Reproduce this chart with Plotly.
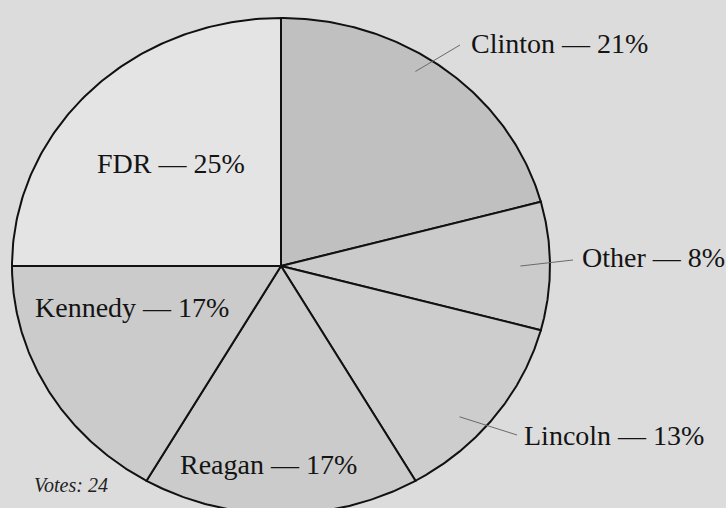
import numpy as np
import plotly.graph_objects as go

# Poll results, clockwise from 12 o'clock
names = ["Clinton", "Other", "Lincoln", "Reagan", "Kennedy", "FDR"]
votes = [5, 2, 3, 4, 4, 6]

total = sum(votes)
pcts = [int(100 * v / total + 0.5) for v in votes]

# Styling
fills = ["#c0c0c0", "#cbcbcb", "#cdcdcd", "#cbcbcb", "#cbcbcb", "#e4e4e4"]
paper_bg = "#dcdcdc"
W, H = 726, 508

# Axis ranges: the unit pie is stretched slightly wider than tall
xr = [-1.0446, 1.6543]
yr = [-0.9758, 1.0726]


def px_to_data(px, py):
    x = xr[0] + px / W * (xr[1] - xr[0])
    y = yr[1] - py / H * (yr[1] - yr[0])
    return x, y


fig = go.Figure()

edges = np.concatenate([[0], np.cumsum(votes)]) / total * 2 * np.pi
for i, name in enumerate(names):
    t = np.linspace(edges[i], edges[i + 1], 120)
    xs = np.concatenate([[0], np.sin(t), [0]])
    ys = np.concatenate([[0], np.cos(t), [0]])
    fig.add_trace(go.Scatter(
        x=xs, y=ys, mode="lines", fill="toself", fillcolor=fills[i],
        line=dict(color="#111111", width=2), hoverinfo="skip",
        showlegend=False,
    ))

# Label placement (left edge, vertical centre, in pixels) and leader lines
label_pos = {
    "Clinton": (469, 44),
    "Other": (580, 257),
    "Lincoln": (522, 435),
    "Reagan": (178, 464),
    "Kennedy": (33, 307),
    "FDR": (95, 163),
}
# leader: (angle offset from slice middle in degrees, radius, end pixel)
leaders = {
    "Clinton": (-5, 0.93, (460, 45)),
    "Other": (0, 0.89, (573, 260)),
    "Lincoln": (5, 0.90, (517, 435)),
}

for i, name in enumerate(names):
    lx, ly = label_pos[name]
    fig.add_annotation(
        x=lx / W, y=1 - ly / H, xref="paper", yref="paper",
        text=f"{name} \u2014 {pcts[i]}%", showarrow=False,
        xanchor="left", yanchor="middle",
        font=dict(family="Liberation Serif", size=28, color="#141414"),
    )
    if name in leaders:
        off, rad, end = leaders[name]
        mid = (edges[i] + edges[i + 1]) / 2 + np.radians(off)
        sx, sy = rad * np.sin(mid), rad * np.cos(mid)
        ex, ey = px_to_data(*end)
        fig.add_trace(go.Scatter(
            x=[sx, ex], y=[sy, ey], mode="lines",
            line=dict(color="#6a6a6a", width=1), hoverinfo="skip",
            showlegend=False,
        ))

fig.add_annotation(
    x=32 / W, y=1 - 485 / H, xref="paper", yref="paper",
    text=f"<i>Votes: {total}</i>", showarrow=False,
    xanchor="left", yanchor="middle",
    font=dict(family="Liberation Serif", size=20, color="#222222"),
)

fig.update_xaxes(range=xr, visible=False, fixedrange=True)
fig.update_yaxes(range=yr, visible=False, fixedrange=True)
fig.update_layout(
    width=W, height=H, margin=dict(l=0, r=0, t=0, b=0),
    paper_bgcolor=paper_bg, plot_bgcolor=paper_bg,
)

fig.write_html("out.html")
